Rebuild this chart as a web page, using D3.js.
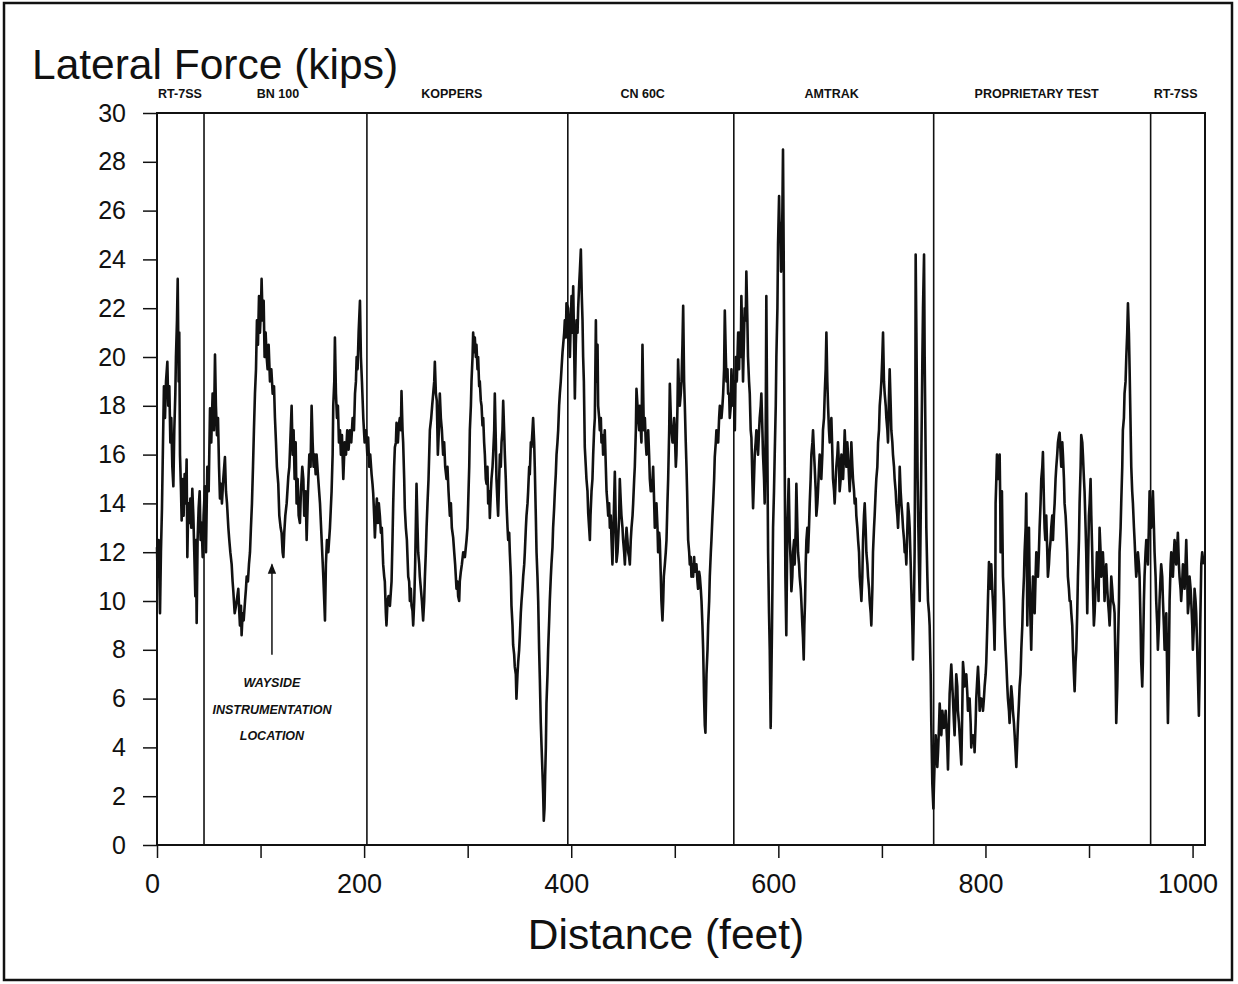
<!DOCTYPE html>
<html>
<head>
<meta charset="utf-8">
<script src="https://cdn.jsdelivr.net/npm/d3@7"></script>
<style>
  body { margin: 0; background: #fff; }
  svg { display: block; font-family: "Liberation Sans", Arial, Helvetica, sans-serif; }
</style>
</head>
<body>
<div id="chart"></div>
<script>
// Track sections along the test zone (boundaries in feet)
const sectionBreaks = [45.4, 202.7, 396.7, 557, 750, 959.5];
const sectionNames = ["RT-7SS", "BN 100", "KOPPERS", "CN 60C", "AMTRAK", "PROPRIETARY TEST", "RT-7SS"];
const sectionLabelAt = [22.2, 116.8, 284.7, 469, 651.5, 849.4, 983.6];

const yTicks = [0, 2, 4, 6, 8, 10, 12, 14, 16, 18, 20, 22, 24, 26, 28, 30];
const xTicks = [0, 100, 200, 300, 400, 500, 600, 700, 800, 900, 1000];
const xLabels = [0, 200, 400, 600, 800, 1000];

// Lateral force readings [distance ft, kips]
const rt7ssA = [[0,12.2],[0.6,11],[1.6,12.5],[2.9,9.5],[3.8,12],[4.8,13.8],[5.8,16.5],[6.7,18.8],[7.7,17.5],[8.7,19],
  [10,19.8],[10.9,18],[11.9,18.8],[12.9,16.5],[13.8,17.5],[14.8,15.5],[15.8,14.7],[16.7,17],[17.7,18.5],[18.3,20],
  [19.3,21.5],[20,23.2],[20.9,19],[21.5,21],[22.2,16],[23.2,14.5],[23.8,13.3],[24.8,15],[25.7,13.5],[26.7,15.2],
  [27.7,14],[28.6,15.8],[29.3,11.8],[30.2,14],[31.2,13.2],[32.2,14.2],[33.1,13],[34.1,14.6],[35.1,13.5],[36,12],
  [37,10.2],[37.6,12.5],[38.3,9.1],[39.2,12.5],[40.2,13.8],[41.2,14.5],[42.1,12.5],[43.1,13.2],[44.1,11.8],[45,13.5]];

const bn100 = [[46.3,14.7],[47.3,12],[48.6,15.5],[49.9,14.5],[51.2,17.9],[52.4,16.5],[53.7,18.5],[55,17],[56,20.1],[56.9,18],
  [57.9,16.8],[58.9,17.5],[59.9,15.5],[60.8,14.2],[61.8,14.8],[62.7,14],[64,15],[65.6,15.9],[66.6,14.5],[67.6,14],
  [68.9,13],[69.8,12.5],[70.8,12],[72.1,11.5],[73,10.8],[73.7,10.4],[75,9.5],[76.3,9.8],[77.6,10.2],[78.5,10.5],
  [79.5,9.5],[80.1,9],[81.1,9.8],[81.7,8.6],[82.7,9.5],[83.7,9.2],[85,10],[85.9,10.5],[86.6,11],[87.8,10.8],
  [88.8,11.5],[89.8,12],[90.7,13],[91.7,14],[92.7,15.5],[93.6,17],[94.6,18.5],[95.6,19.5],[96.5,21.5],[97.5,20.5],
  [98.5,22.5],[99.4,21],[100.4,22],[101,23.2],[102,21.5],[103,22.3],[103.9,20],[104.9,21],[105.9,20],[106.8,19.5],
  [107.8,20.5],[109.1,19],[110.4,19.5],[111.7,18.5],[113,18.8],[113.9,17.5],[114.9,16.5],[115.8,15.5],[117.1,14.8],[118.1,13.5],
  [119.4,13],[120.3,12.8],[121.3,12],[122,11.8],[122.9,12.8],[123.9,13.5],[125.2,14],[126.8,15.1],[127.8,15.5],[128.7,16.5],
  [130,18],[131,16],[131.9,17],[132.9,15],[133.9,16.5],[134.8,14],[135.8,15],[136.8,13.5],[138,13.2],[139,14.5],
  [140.3,15.5],[141.3,15],[142.2,13.5],[143.5,14.5],[144.5,12.5],[145.8,14.5],[147.1,16],[148.3,15.5],[149.3,18],[150.3,16.5],
  [151.2,15.5],[152.2,16],[153.2,15.2],[154.1,16],[155.7,15],[157.4,14],[159,12.5],[160.6,11],[161.5,10],[162.2,9.2],
  [163.1,11.5],[164.1,12.5],[165.4,12],[167,13],[168.6,14.5],[169.6,16],[170.2,18],[171.2,19],[171.8,20.8],[172.8,18.5],
  [173.8,17.5],[174.7,18],[175.7,16.5],[176.7,17],[177.6,16],[178.6,16.8],[179.9,15],[181.2,16.5],[182.5,16],[183.7,17],
  [185,16.2],[186.3,17],[187.6,16.5],[188.9,17.5],[190.2,17],[191.2,18.5],[192.1,19],[192.8,20],[193.7,19.5],[194.7,21],
  [196,22.3],[196.9,20],[197.9,19],[199.2,17.5],[200.5,16.5],[201.8,17],[203.1,16]];

const koppers = [[203.9,16.7],[204.9,15.5],[205.9,16],[207.2,15.2],[208.1,14.8],[208.8,14.4],[209.7,13.5],[210.4,12.6],[211.3,13.5],[212.3,14.2],
  [213.3,13.2],[214.2,14],[215.2,13.5],[216.2,12.8],[217.1,13],[218.4,11.5],[219.4,11],[220,10.8],[221,9.5],[221.6,9],
  [222.6,10],[223.6,10.2],[224.9,9.8],[226.5,10.8],[227.4,12.5],[228.1,14],[229,15.5],[229.7,16.3],[230.7,16.5],[231.3,17.3],
  [232.6,16.5],[233.5,17.2],[234.5,17.5],[235.5,17],[236.1,18.6],[237.1,17],[237.7,16.5],[238.7,15],[239.3,13.8],[240.3,13],
  [241.3,12.5],[242.6,11],[243.5,10.8],[244.2,10],[245.1,10.5],[245.8,9.8],[246.7,9.6],[247.4,9],[248.4,10],[249.3,11.5],
  [250.6,14.8],[251.6,13],[252.2,12],[253.2,11.5],[253.8,11],[254.8,10.5],[255.8,10],[257,9.2],[258,10],[258.7,11],
  [259.6,12],[260.3,13],[261.2,14],[262.2,15],[263.5,17],[264.8,17.5],[265.7,18],[266.7,18.5],[267.7,19],[268.3,19.8],
  [269.3,18.5],[270.2,18.2],[271.2,16],[272.2,17],[273.1,18.5],[274.1,17.5],[275.1,17],[276.3,16],[277.3,16.5],[278.3,15.5],
  [279.6,15],[280.5,15.5],[281.5,14.5],[282.8,13.5],[283.8,14],[284.7,13],[286,12.6],[287,12],[287.9,11.5],[289.2,10.5],
  [290.2,10.8],[290.8,10.2],[291.8,10],[292.4,10.8],[293.4,11.2],[294.4,11.5],[295.7,12],[297.3,11.8],[298.9,12.5],[299.8,13],
  [300.5,14],[301.5,15.5],[302.1,17],[303.1,18],[303.7,19],[304.7,20],[305.3,21],[306.3,20.2],[306.9,20.8],[307.9,20],
  [308.5,20.5],[309.5,19.5],[310.1,20],[311.1,18.8],[311.7,19],[312.7,18.2],[313.4,18],[314.3,17.2],[315,17.5],[315.9,16.5],
  [316.6,16],[317.5,15],[318.2,14.8],[319.1,15.5],[319.8,14],[320.8,14.5],[321.4,13.4],[322.4,14.5],[323,15],[324,15.5],
  [324.6,16],[325.6,17],[326.2,18.5],[327.2,16.5],[327.8,15],[328.8,14],[329.4,13.5],[330.4,15],[331.1,16],[332,15.5],
  [332.7,16.5],[333.6,17],[334.3,18.2],[335.2,17],[335.9,16],[336.8,15],[337.5,14],[338.5,13],[339.1,12.5],[340.1,12.8],
  [340.7,12],[341.7,11],[342.3,9.8],[343.3,9],[343.9,8.2],[344.9,7.8],[345.5,7.3],[346.5,7],[347.1,6],[348.1,7],
  [348.8,7.5],[349.7,8],[350.4,8.6],[351.3,9.5],[352,10],[352.9,10.5],[353.6,11],[354.6,11.5],[355.2,12],[356.2,13],
  [356.8,13.5],[357.8,14],[358.4,14.5],[359.4,15.5],[360,15.2],[361,16.5],[361.6,16.3],[362.6,17],[363.2,17.5],[364.2,16.5],
  [364.8,15.5],[365.8,13.5],[366.5,12],[367.4,11],[368.1,10],[369,8],[369.7,6.8],[370.6,5],[371.3,4.1],[372.2,3],
  [372.9,2.1],[373.5,1],[374.2,1.5],[374.8,2.8],[375.5,4],[376.1,5.8],[377.1,7],[377.7,8],[378.7,9.2],[379.3,10],
  [380.3,11],[380.9,11.5],[381.9,12.2],[382.5,13],[383.5,13.8],[384.2,14.5],[385.1,15.2],[385.8,16],[386.7,16.5],[387.4,17],
  [388.3,18],[389,18.5],[389.9,19],[390.6,19.5],[391.6,20.2],[392.2,20.5],[393.2,21],[393.8,21.5],[394.8,20.8],[395.4,22.2]];

const cn60c = [[397,22],[398,21],[398.7,20],[399.6,21.5],[400.3,22.5],[401.2,21],[401.9,22.9],[402.8,20.5],[403.5,18.3],[404.4,20.5],
  [405.1,21.5],[406.1,21],[406.7,22],[407.7,23],[408.3,23.5],[409.3,24.4],[410.2,22.5],[410.9,21.5],[411.5,20],[412.2,19],
  [413.1,16.3],[414.1,15.5],[414.7,15],[415.7,14.5],[416.4,13.6],[417.3,13],[418,12.5],[418.6,13.5],[419.6,14.5],[420.5,15],
  [421.2,16],[422.1,17],[422.8,17.5],[423.8,21.5],[424.4,19],[425.4,20.5],[426,18],[427,17.5],[427.6,17],[428.6,17.5],
  [429.2,16.5],[430.2,16.8],[430.8,16],[431.8,16.5],[432.4,17],[433.4,15.5],[434.1,14.5],[435,14],[435.7,13.5],[436.6,14],
  [437.3,13],[438.2,13.5],[438.9,12.5],[439.8,11.5],[440.8,13],[442.1,15.3],[443.1,13],[443.7,11.6],[444.7,12],[445.3,12.5],
  [446.3,13.5],[446.9,15],[447.9,14],[448.5,13.5],[449.5,13],[450.1,12.5],[451.1,12],[451.8,11.5],[452.7,12.5],[453.4,13],
  [454.3,12.5],[455,12],[455.9,11.8],[456.6,11.5],[457.5,12.5],[458.2,13],[459.2,13.5],[459.8,14],[460.8,15],[461.4,15.5],
  [462.4,17],[463,18.7],[464,18],[464.6,17.5],[465.6,17],[466.2,18],[467.2,17],[467.8,16.5],[468.8,20.5],[469.5,18.5],
  [470.1,17],[471.1,17.5],[472,16.5],[472.7,16],[473.6,16.5],[474.3,17],[475.2,16],[475.9,15],[476.8,14.5],[477.5,14.5],
  [478.5,15],[479.1,15.5],[480.1,14],[480.7,13],[481.7,13.5],[482.3,14],[483.3,13],[483.9,12],[484.9,12.8],[485.5,12.5],
  [486.5,11],[487.1,10],[488.1,9.2],[488.8,10],[489.4,11],[490.4,11.5],[491.3,12],[492,12.5],[492.9,14],[493.6,15],
  [494.6,17],[495.2,18.9],[496.2,17.5],[496.8,17],[497.8,16.5],[498.4,16.5],[499.4,17.5],[500,17],[501,15.5],[501.6,16],
  [502.6,18],[503.2,19.9],[504.2,18.5],[504.8,18],[505.8,18.5],[506.5,19],[507.4,20.5],[508.1,22.1],[509,19],[509.7,18],
  [510.6,16.5],[511.3,15.5],[511.9,14.5],[512.9,12.5],[513.9,12],[514.5,11.5],[515.5,11.8],[516.1,11],[517.1,11.5],[517.7,11],
  [518.7,11.8],[519.3,11.2],[520.3,11.5],[520.9,11.5],[521.9,10.8],[522.5,10.5],[523.5,11.2],[524.2,11],[525.1,10.5],[525.8,10],
  [526.7,9],[527.4,8],[528.3,6],[529,4.9],[529.6,4.6],[530.6,7],[531.6,8],[532.2,9],[533.2,10],[533.8,11],
  [534.8,12],[535.4,12.5],[536.4,13.5],[537,14],[538,15],[538.6,15.9],[539.6,16.5],[540.2,17],[541.2,16.5],[541.9,16.5],
  [542.8,17.5],[543.5,18],[544.4,17.5],[545.1,17.5],[546,18],[546.7,18.5],[547.6,19.5],[548.3,21.9],[549.3,20],[549.9,19],
  [550.9,19.5],[551.5,18.5],[552.5,18.5],[553.1,17.5],[554.1,18],[554.7,19.5],[555.7,18.5],[556.3,18]];

const amtrak = [[557,19],[558,17],[558.9,20],[559.9,19],[561.2,21],[562.1,19.5],[562.7,21],[563.7,20],[564.3,22.5],[565.3,20.5],
  [565.9,19],[566.9,21],[567.5,22],[568.5,21.5],[569.1,23.5],[570.1,21.5],[570.7,20],[571.7,19],[572.4,18.5],[573.3,17],
  [574,16.7],[574.9,15],[575.6,13.8],[576.5,15],[577.2,16],[578.1,16.5],[578.8,17],[579.8,16.5],[580.4,16],[581.4,17],
  [582,17.5],[583,18],[583.6,18.5],[584.6,17],[585.2,16],[586.2,15],[586.8,14],[587.8,17],[588.4,22.5],[589.1,18],
  [590.1,12],[591,9.5],[591.7,8],[592.6,4.8],[593.3,7],[593.9,9],[594.9,13],[595.8,14.5],[596.5,16],[597.5,18],
  [598.1,20],[599.1,22],[599.7,24.6],[600.7,26.6],[601.3,25],[602,25.5],[602.6,23.5],[603.2,24],[603.9,26],[604.5,28.5],
  [605.2,24],[605.5,21],[606.1,16],[606.8,11],[607.7,8.6],[608.7,13],[609.4,14],[610,15],[611,12.5],[612,11.5],
  [612.6,10.4],[613.5,11],[614.2,12],[615.2,12.5],[615.8,11.5],[616.8,13],[617.4,14.8],[618.4,13],[619,12],[620,11.5],
  [620.6,11],[621.6,10.5],[622.2,10],[623.2,9],[623.8,8.5],[624.5,7.6],[625.1,9],[625.8,10],[626.4,11.5],[627.1,12.5],
  [628,13],[628.7,12],[629.6,13],[630.3,14],[631.2,15],[631.9,16],[632.9,16.5],[633.5,17],[634.5,16],[635.1,15.5],
  [636.1,14.5],[636.7,13.5],[637.7,14],[638.3,14.5],[639.3,15.5],[639.9,16],[640.9,15.5],[641.5,15],[642.5,16],[643.1,17],
  [644.1,17.5],[644.8,18.5],[645.7,19.5],[646.4,21],[647.3,19],[648,18],[648.9,17],[649.6,16.5],[650.5,17],[651.2,17.5],
  [652.2,16],[652.8,15],[653.8,14.5],[654.4,14],[655.4,15],[656,15.5],[657,16],[657.6,16.5],[658.6,15.5],[659.2,14.5],
  [660.2,15],[660.9,16],[661.8,15.5],[662.5,15],[663.4,16],[664.1,17],[665,16],[665.7,15.5],[666.6,16.5],[667.3,16],
  [668.3,15],[668.9,14.5],[669.9,15.5],[670.5,16.5],[671.5,15.5],[672.1,15],[673.1,14.5],[673.7,14],[674.7,14.2],[675.3,13.5],
  [676.3,13],[677,12.5],[677.9,12],[678.6,11],[679.5,10.5],[680.2,10],[681.1,11],[681.8,12.5],[682.7,13.5],[683.4,14],
  [684.3,13],[685,12],[686,11.5],[686.6,11],[687.6,10.5],[688.2,10],[689.2,9.5],[689.8,9],[690.8,10.5],[691.4,12],
  [692.4,13],[693,13.5],[694,14.5],[694.6,15],[695.6,15.5],[696.3,16.5],[697.2,17],[697.9,18],[698.8,18.5],[699.5,19],
  [700.4,20],[701.1,21],[702,19],[702.7,18.5],[703.7,18],[704.3,17.5],[705.3,17],[705.9,16.5],[706.9,18.5],[707.5,19.5],
  [708.5,18],[709.1,17],[710.1,16.5],[710.7,16],[711.7,15.5],[712.3,15],[713.3,14.5],[713.9,14],[714.9,13.5],[715.6,13],
  [716.5,14],[717.2,15.5],[718.1,14.5],[718.8,14],[719.7,13.5],[720.4,13],[721.4,12.5],[722,12],[723,12],[723.6,11.5],
  [724.6,13],[725.2,14],[726.2,13.5],[726.8,13],[727.8,11.5],[728.4,10.5],[729.4,9],[730,7.6],[731,10],[731.6,12],
  [732.3,18],[732.6,24.2],[733.3,21],[733.9,18],[734.5,15],[735.2,13],[735.8,11.5],[736.5,10],[737.1,12],[738.1,16],
  [739.1,20],[739.7,22],[740.7,24.2],[741.3,20],[742,17],[742.9,13],[743.9,11],[744.5,10],[745.5,9.5],[746.1,9],
  [747.1,7],[747.7,5],[748.7,2.5],[749.7,1.5]];

const proprietary = [[750.3,2.5],[751,3.5],[751.9,4.5],[752.6,4],[753.5,3.2],[754.2,3.8],[755.1,4.8],[755.8,5.8],[756.7,5],[757.4,4.5],
  [758.4,5.5],[759,5.2],[760,4.8],[760.6,5],[761.6,5.5],[762.2,5],[763.2,4],[763.8,3.1],[764.8,5],[765.4,6.2],
  [767,7.4],[768,6.5],[768.6,6],[769.6,5],[770.2,4.5],[771.2,6],[771.8,7],[772.8,6.5],[773.4,5.5],[774.4,5],
  [775.1,4.5],[776,3.8],[776.7,3.3],[777.6,5.5],[778.3,7.5],[779.2,7],[779.9,6.5],[780.8,6.8],[781.5,7],[782.5,6.2],
  [783.1,5.5],[784.1,6],[784.7,6],[785.7,5],[786.3,4],[787.3,4.5],[787.9,4.2],[788.9,4.5],[789.5,3.8],[790.5,5],
  [791.1,6],[792.1,6.8],[792.8,7.3],[793.7,6.5],[794.4,5.5],[795.3,6],[796,6],[796.9,5.8],[797.6,5.5],[798.5,6],
  [799.2,6.5],[800.2,7],[800.8,7.5],[801.8,9],[802.4,10],[803.4,11.6],[804,11],[804.7,10.5],[805.6,11.5],[806.6,10.5],
  [807.2,10],[808.2,9],[808.8,8],[809.5,10],[809.8,14],[810.5,15],[811.1,16],[812.1,15],[812.7,15.5],[813.7,16],
  [814.3,14],[814.6,12],[815.3,13.5],[815.9,14.5],[816.9,11],[817.9,10],[818.5,9],[819.5,8],[820.1,7.5],[821.1,6.5],
  [821.7,6],[822.7,5.5],[823.3,5],[824.3,6],[824.9,6.5],[825.9,6],[826.5,5.5],[827.5,5],[828.2,4.5],[829.1,3.8],
  [829.8,3.2],[830.7,4.2],[831.4,5],[832.3,5.8],[833,6.5],[833.9,7],[834.6,8],[835.6,9],[836.2,10],[837.2,11],
  [837.8,12],[838.8,13],[839.4,14.4],[840.1,11],[840.4,9],[841,11],[842,13],[842.6,11],[843.3,9.5],[844.2,8],
  [845.2,10],[845.9,11],[846.8,10],[847.5,9.5],[848.4,11],[849.1,12],[850,11.5],[850.7,11],[851.6,12],[852.3,13],
  [853.2,14],[853.9,15],[854.9,15.5],[855.5,16.1],[856.5,14],[857.1,13],[857.8,12.5],[858.7,13.5],[859.7,12],[860.3,11],
  [861.3,11.5],[861.9,12],[862.9,12.5],[863.5,13],[864.5,13.5],[865.2,12.5],[866.1,13.5],[866.8,14],[867.7,15],[868.4,15.5],
  [869.3,16],[870,16.5],[871,16.8],[871.6,16.9],[872.6,16],[873.2,15.5],[874.2,16.5],[874.8,16],[875.8,15],[876.4,14],
  [877.4,13.5],[878,13],[879,12],[879.6,11],[880.6,10.5],[881.3,10],[882.2,10],[882.9,9.5],[883.8,9],[884.5,8],
  [885.4,7],[886.1,6.3],[887,7.5],[887.7,8],[888.6,9.5],[889.3,11],[890.3,12.5],[890.9,14],[891.9,15.5],[892.5,16.8],
  [893.5,16.5],[894.1,16],[895.1,15],[895.7,14.5],[896.7,13],[897.3,12],[898.3,9.5],[898.9,11],[899.9,13.5],[900.6,14],
  [901.5,15],[902.2,13.5],[903.1,12],[903.8,10.5],[904.7,9],[905.4,9.5],[906.3,10.5],[907,11],[907.6,12],[908.6,11],
  [909.2,10],[910.2,13],[911.2,12],[911.8,11],[912.8,11.5],[913.4,12],[914.4,11],[915,10],[916,11],[916.6,11.5],
  [917.6,10.5],[918.3,10],[919.2,9.5],[919.9,9],[920.8,10],[921.5,11],[922.4,10.5],[923.1,10],[924.1,9.8],[924.7,9.5],
  [925.7,7],[926.3,5],[927.3,6.5],[927.9,8],[928.9,10],[929.5,12],[930.5,13],[931.1,14],[932.1,15.5],[932.7,17],
  [933.7,17.5],[934.3,18.5],[935.3,19],[936,20],[936.9,21],[937.6,22.2],[938.5,21],[939.2,19.5],[939.8,18],[940.8,15.5],
  [941.7,14.5],[942.4,14],[943.4,13],[944,12.5],[945,11.5],[945.6,11],[946.6,11.5],[947.2,12],[948.2,11.5],[948.8,11],
  [949.8,9],[950.4,7.5],[951.4,6.5],[952,7.5],[953,10],[953.6,11],[954.6,12],[955.3,12.5],[956.2,12],[956.9,11.5],
  [957.8,13],[958.5,14.5],[959.4,13.5]];

const rt7ssB = [[960.1,13],[961.1,14],[961.7,14.5],[962.7,13],[963.3,12],[964.3,11],[964.9,10],[965.9,9],[966.5,8],[967.5,9],
  [968.1,10],[969.1,11],[969.7,11.5],[970.7,11],[971.4,10],[972.3,9],[973,8],[973.9,8.5],[974.6,9.5],[975.5,7],
  [976.2,5],[977.1,7.5],[977.8,10],[978.8,11.5],[979.4,12],[980.4,11.5],[981,11],[982,12],[982.6,12.5],[983.6,12],
  [984.2,11.5],[985.2,12.3],[985.8,12.8],[986.8,11.5],[987.4,11],[988.4,10.5],[989,10],[990,10.8],[990.7,11.5],[991.6,11],
  [992.3,10.5],[993.2,11.5],[993.9,12.5],[994.8,11],[995.5,9.5],[996.5,10],[997.1,11],[998.1,10.5],[998.7,10],[999.7,9],
  [1000.3,8],[1001.3,9],[1001.9,10.5],[1002.9,10],[1003.5,9.5],[1004.5,8],[1005.1,7],[1006.1,5.3],[1006.8,7],[1007.4,9],
  [1008.4,11.5],[1009.3,12],[1010.6,11.5]];

// Annotation: arrow pointing at the wayside instrumentation location
const waysideAt = 111;
const waysideArrow = [7.8, 11.5];
const waysideText = ["WAYSIDE", "INSTRUMENTATION", "LOCATION"];

const W = 1238, H = 984;
const svg = d3.select("#chart").append("svg").attr("width", W).attr("height", H);
svg.append("rect").attr("width", W).attr("height", H).attr("fill", "#fff");

// outer frame of the figure
svg.append("rect").attr("x", 4).attr("y", 3).attr("width", 1228).attr("height", 977)
  .attr("fill", "none").attr("stroke", "#111").attr("stroke-width", 2.5);

const x = d3.scaleLinear().domain([0, 1012]).range([157, 1205]);
const y = d3.scaleLinear().domain([0, 30]).range([845, 113]);

// y axis
const yAxis = svg.append("g").attr("transform", `translate(${x(0)},0)`)
  .call(d3.axisLeft(y).tickValues(yTicks).tickSize(14).tickPadding(17));
yAxis.select(".domain").remove();
yAxis.selectAll("line").attr("stroke", "#111").attr("stroke-width", 1.5);
yAxis.selectAll("text").attr("font-size", 25).attr("fill", "#111")
  .attr("font-family", "'Liberation Sans', Arial, sans-serif");

// x axis
const xAxis = svg.append("g").attr("transform", `translate(0,${y(0)})`)
  .call(d3.axisBottom(x).tickValues(xTicks).tickSize(13).tickPadding(16)
    .tickFormat(d => xLabels.includes(d) ? d : ""));
xAxis.select(".domain").remove();
xAxis.selectAll("line").attr("stroke", "#111").attr("stroke-width", 1.5);
xAxis.selectAll("text").attr("font-size", 27).attr("fill", "#111").attr("dx", -5)
  .attr("font-family", "'Liberation Sans', Arial, sans-serif");

// section boundaries
svg.append("g").selectAll("line").data(sectionBreaks).enter().append("line")
  .attr("x1", d => x(d)).attr("x2", d => x(d))
  .attr("y1", y(30)).attr("y2", y(0))
  .attr("stroke", "#111").attr("stroke-width", 1.6);

// section names above plot
svg.append("g").selectAll("text").data(sectionNames).enter().append("text")
  .attr("x", (d, i) => x(sectionLabelAt[i])).attr("y", 98)
  .attr("text-anchor", "middle").attr("font-size", 12.5).attr("font-weight", "bold")
  .attr("fill", "#111").text(d => d);

// plot frame
svg.append("rect").attr("x", x(0)).attr("y", y(30))
  .attr("width", x(1012) - x(0)).attr("height", y(0) - y(30))
  .attr("fill", "none").attr("stroke", "#111").attr("stroke-width", 2);

// force trace
const trace = [].concat(rt7ssA, bn100, koppers, cn60c, amtrak, proprietary, rt7ssB);
const line = d3.line().x(d => x(d[0])).y(d => y(d[1]));
svg.append("path").datum(trace).attr("d", line)
  .attr("fill", "none").attr("stroke", "#111").attr("stroke-width", 2.6)
  .attr("stroke-linejoin", "round");

// wayside arrow and note
svg.append("defs").append("marker").attr("id", "arrowHead")
  .attr("viewBox", "0 0 10 10").attr("refX", 9).attr("refY", 5)
  .attr("markerWidth", 7).attr("markerHeight", 9).attr("orient", "auto")
  .append("path").attr("d", "M0,1L10,5L0,9Z").attr("fill", "#111");
svg.append("line")
  .attr("x1", x(waysideAt)).attr("x2", x(waysideAt))
  .attr("y1", y(waysideArrow[0])).attr("y2", y(waysideArrow[1]))
  .attr("stroke", "#111").attr("stroke-width", 1.5).attr("marker-end", "url(#arrowHead)");
svg.append("g").selectAll("text").data(waysideText).enter().append("text")
  .attr("x", x(waysideAt)).attr("y", (d, i) => 687 + i * 26.5)
  .attr("text-anchor", "middle").attr("font-size", 12.5)
  .attr("font-weight", "bold").attr("font-style", "italic").attr("fill", "#111")
  .text(d => d);

// axis titles
svg.append("text").attr("x", 32).attr("y", 79).attr("font-size", 42.5)
  .attr("fill", "#111").text("Lateral Force (kips)");
svg.append("text").attr("x", 666).attr("y", 949).attr("text-anchor", "middle")
  .attr("font-size", 42.5).attr("fill", "#111").text("Distance (feet)");
</script>
</body>
</html>
